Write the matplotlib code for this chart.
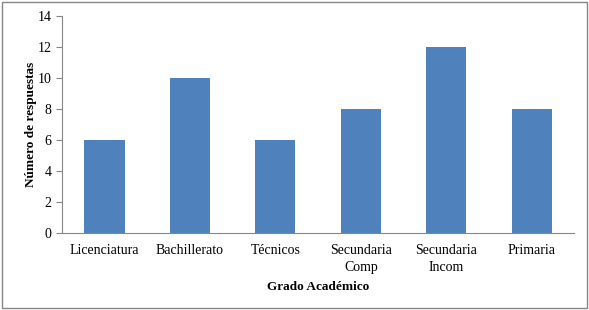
import matplotlib
matplotlib.use("Agg")
import matplotlib.pyplot as plt
from matplotlib.patches import Rectangle

categorias = ["Licenciatura", "Bachillerato", "Técnicos", "Secundaria\nComp", "Secundaria\nIncom", "Primaria"]
respuestas = [6, 10, 6, 8, 12, 8]
yticks = [0, 2, 4, 6, 8, 10, 12, 14]

plt.rcParams['font.family'] = ['Liberation Serif', 'DejaVu Serif']

fig = plt.figure(figsize=(5.89, 3.10), dpi=100)
ax = fig.add_axes([0.105, 0.248, 0.870, 0.700])

x = range(len(categorias))
ax.bar(x, respuestas, width=0.47, color="#4F81BD")

ax.set_xlim(-0.5, len(categorias) - 0.5)
ax.set_ylim(0, 14)
ax.set_yticks(yticks)
ax.set_xticks(list(x))
ax.set_xticklabels(categorias, fontsize=10, linespacing=1.4)
ax.tick_params(axis="y", labelsize=10, length=4, color="#868686", direction="out")
ax.tick_params(axis="x", length=0, pad=8)

for s in ["top", "right"]:
    ax.spines[s].set_visible(False)
for s in ["left", "bottom"]:
    ax.spines[s].set_color("#868686")

ax.set_xlabel("Grado Académico", fontsize=9.5, fontweight="bold", labelpad=5)
ax.set_ylabel("Número de respuestas", fontsize=9.5, fontweight="bold", labelpad=0)

fig.patches.append(Rectangle((0.004, 0.006), 0.992, 0.988, transform=fig.transFigure,
                             fill=False, edgecolor="#868686", linewidth=1.0))

fig.savefig("out.png", dpi=100)
